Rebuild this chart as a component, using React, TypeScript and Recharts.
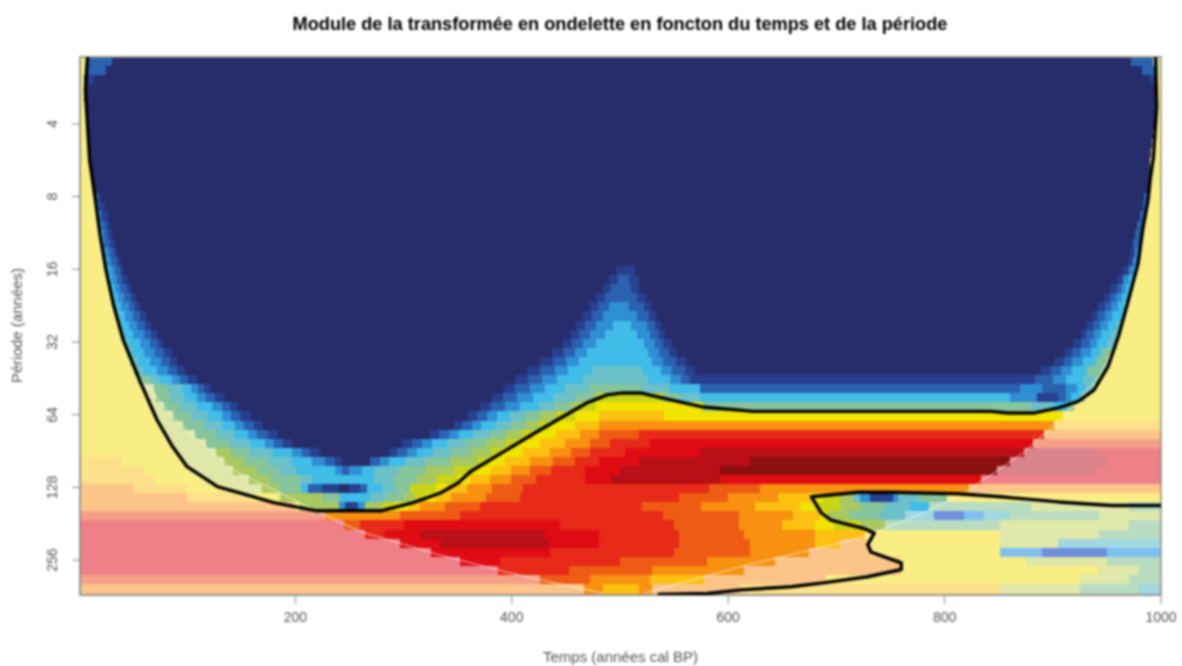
import { ScatterChart, Scatter, XAxis, YAxis, ReferenceArea } from 'recharts'

const timeTicks = [200, 400, 600, 800, 1000]
const periodTicks = [4, 8, 16, 32, 64, 128, 256]

// power levels, from low (navy) to high (dark red); lower case = outside the cone of influence
const levelColors: Record<string, string> = {
  A: '#272d6b', B: '#27408f', C: '#2a62b0', D: '#2f8fd4', E: '#40bce8', F: '#6cc0c8',
  G: '#86c49c', H: '#a8c860', I: '#c8d418', J: '#f0e400', K: '#fcc010', L: '#f89010',
  M: '#ee5c14', N: '#e82a18', O: '#e00c14', P: '#b81016', Q: '#8a1010',
  a: '#f8ee84', b: '#fde08a', c: '#fbc58a', d: '#f4a088', e: '#ee8088', f: '#d8848a',
  g: '#dfe8a8', h: '#b8dcc0', i: '#a0d8e0', j: '#80c0f0', k: '#6f8fdc',
}

// one row per voice (1/8 octave), top to bottom: level letter + time where the run ends
const powerRows = [
  'a7 C31 A972 C993 g1000',
  'a6 C25 A982 C994 g1000',
  'a5 B14 A990 B994 a1000',
  'a5 A994 a1000',
  'a5 A995 a1000',
  'a6 A995 a1000',
  'a7 A995 a1000',
  'a7 A994 a1000',
  'a8 A993 a1000',
  'a9 A992 a1000',
  'a10 A991 a1000',
  'a11 A990 a1000',
  'a12 A990 a1000',
  'a13 A989 a1000',
  'a14 A988 B989 a1000',
  'a15 C19 A984 C987 a1000',
  'a16 D19 B24 A983 C986 a1000',
  'a17 D20 B27 A981 C985 a1000',
  'a18 D21 C25 B29 A978 C984 a1000',
  'a19 E22 C27 B31 A976 C983 a1000',
  'a20 E23 C29 B33 A974 C982 a1000',
  'a21 E24 D28 C32 B35 A972 B976 D981 a1000',
  'a23 E26 D30 C35 B38 A970 B974 D980 a1000',
  'a25 E29 D33 C38 B41 A496 B514 A965 B970 D975 E978 a1000',
  'a27 E31 D35 C40 B44 A490 B498 C508 B518 A959 B965 D970 E975 a1000',
  'a29 E33 D38 C44 B48 A484 B492 C510 B518 A953 B959 C964 D968 E973 a1000',
  'a31 E36 D42 C48 B53 A478 B486 C498 C506 C516 B524 A947 B953 C958 D964 E970 a1000',
  'a33 E39 D46 C52 B56 A471 B480 C490 D508 C522 B529 A942 B948 C954 D960 E967 a1000',
  'a35 F38 E43 D50 C56 B62 A466 B474 C484 D516 C527 B533 A936 B942 C948 D955 E965 a1000',
  'a37 F40 E46 D54 C61 B67 A459 B468 C478 D494 E510 D525 C532 B538 A931 B937 C944 D951 E959 F963 a1000',
  'a39 F42 E50 D60 C67 B72 A454 B462 C472 D486 E516 D528 C536 B542 A926 B931 C938 D945 E954 F961 a1000',
  'a42 F46 E56 D66 C73 B78 A447 B456 C466 D478 E522 D532 C540 B548 A919 B926 C934 D941 E950 F958 a1000',
  'a44 F49 E60 D70 C79 B86 A437 B448 C458 D470 E526 D536 C545 B553 A911 B918 C926 D935 E945 G955 a1000',
  'a47 G50 F55 E66 D76 C84 B91 A426 B438 C450 D462 E530 D540 C552 B562 A902 B910 C918 D928 E940 G951 a1000',
  'a51 G54 F60 E72 D82 C91 B98 A414 B426 C440 D452 E474 F520 E538 D548 C560 B569 A888 B898 C908 D918 E932 G948 a1000',
  'a55 G66 F75 E86 D93 C101 B109 A403 B415 C428 D442 E466 F526 E546 D556 C565 B884 C900 D912 E928 F938 G944 a1000',
  'a58 g69 G82 F95 E104 D110 C116 B122 A393 B403 C417 D431 E449 F472 G519 F546 E574 C870 D890 C912 D922 E930 F937 a1000',
  'a62 g71 G84 F98 E109 D117 C126 B134 A382 B392 C405 D420 E438 F458 G478 I541 G555 F574 E860 D885 B905 C912 D917 E925 G930 a1000',
  'a66 g79 G93 F109 E123 D132 C140 B147 A371 B381 C394 D408 E425 F440 G455 H463 I478 J577 G880 F900 E912 G920 a1000',
  'a70 g87 G104 F119 E132 D141 C149 B159 A360 B368 C377 D386 E398 F412 G426 H442 I458 J481 K541 J909 a1000',
  'a75 g96 G116 F132 E144 D153 C162 B170 A347 B354 C363 D372 E385 F399 G413 H425 I434 J458 K481 L901 b1000',
  'a80 g107 G127 F143 E156 D165 C175 B184 A324 B333 C342 D351 E364 F380 G395 H409 I420 J441 K463 L481 M518 N892 c1000',
  'a86 g117 G140 F158 E172 D180 C189 B197 A299 B308 C317 D326 E340 F357 G376 H395 I405 J426 K449 L472 M491 N528 O882 d1000',
  'a92 g127 H141 G158 F178 E197 D206 C214 B223 A287 B294 C303 D312 E326 F344 G363 H381 I391 J410 K435 L455 M472 N505 O574 P873 f940 e1000',
  'b40 a96 g134 H153 G175 F197 E215 D227 C237 B243 A269 C278 D287 E301 F320 G343 H369 I378 J394 K417 L438 M458 N481 O518 P620 Q860 f950 e1000',
  'b60 a103 g142 H165 G185 F201 E237 D243 C250 D262 E273 F295 G320 H347 I365 J381 K399 L417 M436 N468 O500 P592 Q848 f940 e1000',
  'b70 a116 g157 H177 G204 F215 E273 F290 G312 H330 I350 J361 K380 L399 M422 N468 O491 P592 O834 e1000',
  'c50 b100 a135 g169 H185 G205 E212 C225 B240 A250 B260 C266 E280 F292 G306 I330 J340 K359 L382 M410 N582 M629 L823 c1000',
  'c100 b158 a186 H225 G241 E269 F283 G300 H310 I321 J330 K344 L376 M408 N555 M600 L646 K677 J688 I703 H715 F722 D731 B752 D757 F775 G802 a1000',
  'c199 a204 H240 D246 B258 D264 H280 I292 J305 K315 L338 M371 N520 M575 L625 K666 J685 I703 H722 G745 F768 E786 h880 g970 h1000',
  'd227 L297 M352 N540 M610 L660 K685 J692 H712 G740 F763 i790 k818 j836 i860 h943 g1000',
  'e245 M260 N300 O445 N550 M610 L650 K680 J698 I722 H745 h851 g970 h1000',
  'e264 N282 O315 P430 O481 N555 M615 L680 K726 a851 g943 h1000',
  'e297 O334 P434 O481 N555 M620 L680 K703 c729 a851 g905 i1000',
  'e325 O435 N550 M620 L675 c732 a851 j890 k950 j1000',
  'e352 O389 N500 M580 L643 c759 a875 g950 h1000',
  'e387 N453 M530 L615 c760 a943 g980 h1000',
  'd426 M472 L528 K578 c690 a925 g970 h1000',
  'c467 L484 K518 L530 c611 b851 g925 h980 i1000',
]

// significance contours and cone of influence, [time, period]
const mainContour = [
  [8, 2.1], [6, 2.9], [8, 4.1], [10, 5.7], [15, 8.1], [19.5, 11.5], [25, 16.1], [32, 22.5], [41, 31.4],
  [56, 46], [72, 67], [86, 86], [100, 105], [128, 127],
  [180, 148], [220, 160], [279, 160], [309, 148], [334, 135], [350, 123], [362, 110], [426, 74],
  [470, 57], [488, 53], [503, 52], [519, 52], [550, 56], [577, 59.5], [623, 62], [843, 62], [858, 63],
  [882, 63], [905, 60], [923, 56.5], [938, 50.6], [951, 40.5], [961, 30], [970, 21.4], [979, 15], [983, 11],
  [988, 8.3], [990, 6.8], [993, 5.5], [996, 3.4], [995, 2.1],
]
const lowerContour = [
  [1000, 152], [954, 152], [905, 147], [852, 140], [812, 136], [750, 134], [720, 134], [677, 140],
  [686, 163], [695, 175], [725, 189], [735, 198], [729, 221], [732, 237], [760, 263], [760, 280],
  [729, 300], [688, 318], [658, 330], [612, 340], [581, 352], [535, 355],
]
const coneLeft = [
  [42, 33], [52, 43], [91, 68.6], [142, 108], [223, 163], [260, 195], [334, 244], [399, 290], [485, 352],
]
const coneRight = [
  [522, 352], [612, 272], [704, 217], [725, 205], [781, 163], [818, 135], [873, 92], [910, 65], [942, 45], [961, 31],
]

const timeDomain = [1, 1000]
const periodDomain = [2.114, 357]
const firstVoice = 1.08
const voicesPerOctave = 8

const toPoints = (pairs: number[][]) => pairs.map(([time, period]) => ({ time, period }))

const rowEdge = (r: number) =>
  r >= powerRows.length ? periodDomain[1] : 2 ** (firstVoice + r / voicesPerOctave)

const cells = powerRows.flatMap((row, r) => {
  let start = timeDomain[0]
  return row.split(' ').map((run) => {
    const end = Number(run.slice(1))
    const cell = { x1: start, x2: end, y1: rowEdge(r), y2: rowEdge(r + 1), fill: levelColors[run[0]] }
    start = end
    return cell
  })
})

const CellShape = ({ x, y, width, height, fill }: any) => (
  <rect x={x} y={y} width={width} height={height} fill={fill} shapeRendering="crispEdges" />
)

const AXIS_COLOR = '#555'
const FONT = '"Liberation Sans", Arial, sans-serif'
const contourLine = { stroke: '#000', strokeWidth: 3.4, strokeLinejoin: 'round' as const }
const coneLine = { stroke: '#fff', strokeWidth: 1, strokeOpacity: 0.7 }

const PeriodTick = ({ x, y, payload }: any) => (
  <text
    x={x - 13}
    y={y}
    transform={`rotate(-90 ${x - 13} ${y})`}
    textAnchor="middle"
    fill={AXIS_COLOR}
    fontSize={14}
    fontFamily={FONT}
  >
    {payload.value}
  </text>
)

export default function App() {
  return (
    <div style={{ position: 'absolute', left: 0, top: 0, width: 1182, height: 666, background: '#fff', filter: 'blur(0.9px)' }}>
      <div
        style={{
          position: 'absolute',
          top: 14,
          left: 0,
          width: 1240,
          textAlign: 'center',
          fontFamily: FONT,
          fontWeight: 700,
          fontSize: 18.2,
          color: '#000',
        }}
      >
        Module de la transformée en ondelette en foncton du temps et de la période
      </div>
      <ScatterChart width={1182} height={666} margin={{ top: 57, right: 21, bottom: 11, left: 10 }}>
        <XAxis
          type="number"
          dataKey="time"
          domain={timeDomain}
          allowDataOverflow
          ticks={timeTicks}
          tickSize={9}
          tickMargin={8}
          height={60}
          stroke="#888"
          tick={{ fill: AXIS_COLOR, fontSize: 14, fontFamily: FONT }}
          label={{
            value: 'Temps (années cal BP)',
            position: 'insideBottom',
            offset: -7,
            fill: AXIS_COLOR,
            fontSize: 15,
            fontFamily: FONT,
          }}
        />
        <YAxis
          type="number"
          dataKey="period"
          scale="log"
          reversed
          domain={periodDomain}
          allowDataOverflow
          ticks={periodTicks}
          tickSize={8}
          width={70}
          stroke="#888"
          tick={<PeriodTick />}
          label={{
            value: 'Période (années)',
            angle: -90,
            position: 'insideLeft',
            offset: 7,
            dy: 57,
            fill: AXIS_COLOR,
            fontSize: 15,
            fontFamily: FONT,
          }}
        />
        {cells.map((c, i) => (
          <ReferenceArea
            key={i}
            x1={c.x1}
            x2={c.x2}
            y1={c.y1}
            y2={c.y2}
            fill={c.fill}
            fillOpacity={1}
            stroke="none"
            shape={<CellShape />}
          />
        ))}
        <ReferenceArea
          x1={timeDomain[0]}
          x2={timeDomain[1]}
          y1={periodDomain[0]}
          y2={periodDomain[1]}
          fill="none"
          stroke="#8f8f78"
          strokeWidth={1.5}
        />
        <Scatter data={toPoints(coneLeft)} line={coneLine} shape={() => null} isAnimationActive={false} />
        <Scatter data={toPoints(coneRight)} line={coneLine} shape={() => null} isAnimationActive={false} />
        <Scatter data={toPoints(mainContour)} line={contourLine} shape={() => null} isAnimationActive={false} />
        <Scatter data={toPoints(lowerContour)} line={contourLine} shape={() => null} isAnimationActive={false} />
      </ScatterChart>
    </div>
  )
}
